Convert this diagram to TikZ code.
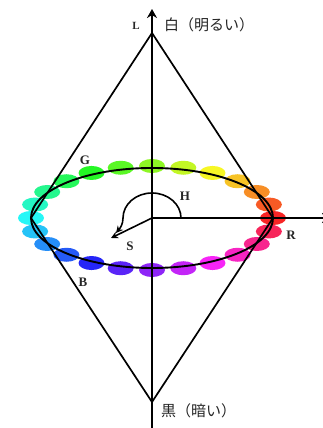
\documentclass[tikz,border=0pt]{standalone}
\usepackage{fontspec}
\setmainfont{Liberation Serif}
\newfontfamily\jp{Noto Sans CJK JP}
\usetikzlibrary{arrows.meta}
\begin{document}
\begin{tikzpicture}[x=1pt,y=1pt,
 cone/.style={line width=1.7pt},
 axisline/.style={line width=1.9pt},
 thin/.style={line width=1.6pt},
 lbl/.style={font=\fontsize{13}{15}\selectfont\bfseries, inner sep=0pt, text=black!85},
 jlbl/.style={font=\jp\fontsize{15}{17}\selectfont, inner sep=0pt, anchor=west, text=black!85},
 tip/.style={-{Stealth[length=7pt,width=7pt]}}]
\useasboundingbox (0,0) rectangle (323,428);
\clip (0,0) rectangle (323,428);
\fill[white] (0,0) rectangle (323,428);
\coordinate (O) at (152,210);
\coordinate (T) at (152,395);
\coordinate (Ttip) at (152,419);
\coordinate (Bt) at (152,26);
\coordinate (Bend) at (152,-2);
\coordinate (Lv) at (31,210);
\coordinate (Rv) at (273,210);
\coordinate (Rend) at (331,210);
\coordinate (Stip) at (111,190);
\coordinate (Hs) at (181,210);
\coordinate (Htip) at (116,195);
% colour blobs
\foreach \i in {0,...,23}{
  \pgfmathsetmacro\ang{\i*15}
  \pgfmathsetmacro\hu{\i/24}
  \definecolor{bc}{hsb}{\hu,0.85,0.97}
  \fill[bc] ({152+121*cos(\ang)},{210+52*sin(\ang)}) ellipse[x radius=13, y radius=7];
}
\draw[line width=1.9pt] (O) ellipse[x radius=121, y radius=50];
\draw[cone] (T) -- (Lv) -- (Bt) -- (Rv) -- cycle;
\draw[axisline,-{Stealth[length=9pt,width=10pt]}] (Bend) -- (Ttip);
\draw[thin,-{Stealth[length=9pt,width=10pt]}] (O) -- (Rend);
\draw[thin,tip] (O) -- (Stip);
\draw[thin,tip] (Hs) arc[start angle=0,end angle=180,x radius=29,y radius=25] to[out=-90,in=50] (Htip);
% labels
\node[lbl,font=\fontsize{11}{13}\selectfont\bfseries] (Lt) at (136,402) {L};
\node[jlbl] (wh) at (164,403) {白（明るい）};
\node[jlbl] (bk) at (161,17) {黒（暗い）};
\node[lbl] (G) at (85,268) {G};
\node[lbl] (R) at (291,193) {R};
\node[lbl] (B) at (83,146) {B};
\node[lbl] (H) at (185,232) {H};
\node[lbl] (S) at (130,182) {S};
\end{tikzpicture}
\end{document}
